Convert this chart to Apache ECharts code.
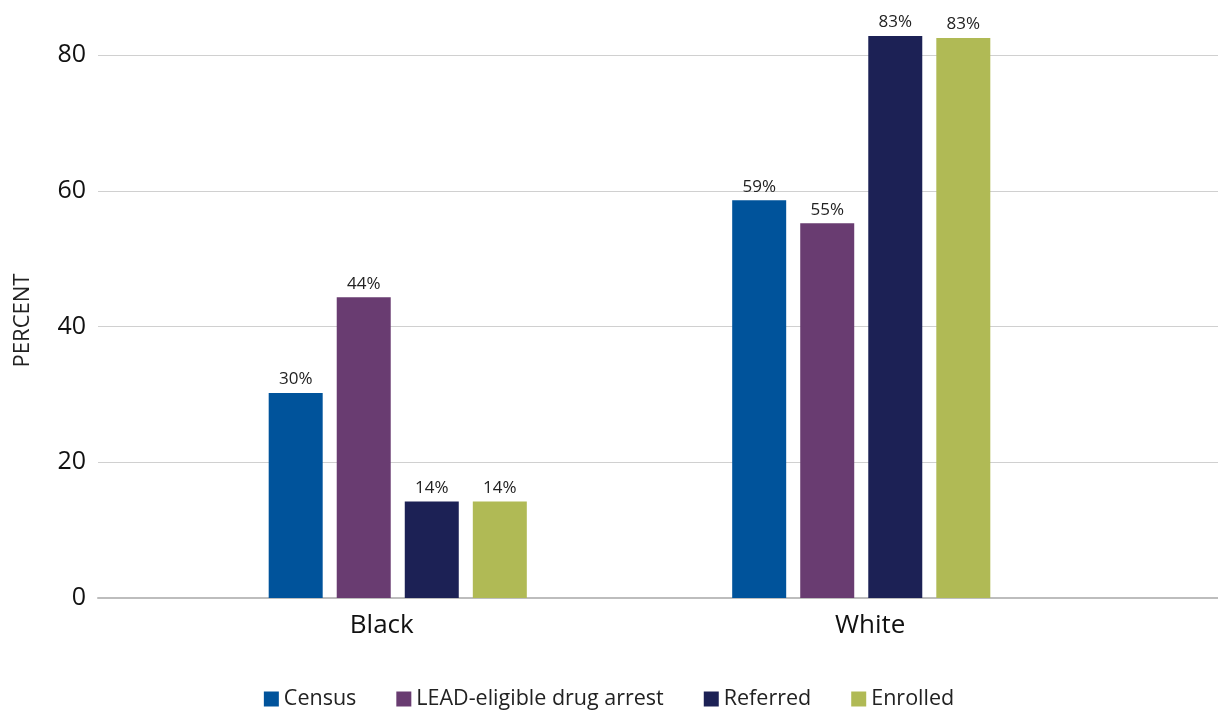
<!DOCTYPE html>
<html>
<head>
<meta charset="utf-8">
<script src="https://cdn.jsdelivr.net/npm/echarts@6/dist/echarts.min.js"></script>
<style>
  html, body { margin: 0; padding: 0; background: #fff; }
  #chart { width: 1218px; height: 713px; }
</style>
</head>
<body>
<div id="chart"></div>
<script>
// Share of each group by race, in percent
const categories = ['Black', 'White'];
const seriesNames = ['Census', 'LEAD-eligible drug arrest', 'Referred', 'Enrolled'];
const census = [30.2, 58.6];
const leadEligible = [44.3, 55.2];
const referred = [14.2, 82.8];
const enrolled = [14.2, 82.5];
const yTicks = [0, 20, 40, 60, 80];

const colors = ['#00539B', '#693C71', '#1C2155', '#B0BA55'];
const values = [census, leadEligible, referred, enrolled];
const font = '"Open Sans", "Noto Sans", sans-serif';

const chart = echarts.init(document.getElementById('chart'));

chart.setOption({
  animation: false,
  textStyle: { fontFamily: font },
  grid: [
    // Full-width frame: value axis, gridlines, baseline
    { left: 98, right: 0, top: 55, bottom: 115 },
    // Bar area
    { left: 166, right: 125, top: 55, bottom: 115 }
  ],
  legend: {
    bottom: -2,
    left: 'center',
    icon: 'rect',
    itemWidth: 15,
    itemHeight: 15,
    itemGap: 40,
    textStyle: { fontFamily: font, fontSize: 21.5, color: '#222' },
    data: seriesNames
  },
  xAxis: [
    {
      gridIndex: 0, type: 'value', min: 0, max: 1,
      axisLine: { show: true, lineStyle: { color: '#bdbdbd', width: 2 } },
      axisTick: { show: false }, axisLabel: { show: false }, splitLine: { show: false }
    },
    {
      gridIndex: 1, type: 'category', data: [
        { value: categories[0], textStyle: { padding: [0, 32, 0, 0] } },
        { value: categories[1], textStyle: { padding: [0, 0, 0, 18] } }
      ],
      axisLine: { show: false }, axisTick: { show: false },
      axisLabel: { margin: 15, fontSize: 26, color: '#111', fontFamily: font }
    }
  ],
  yAxis: [
    {
      gridIndex: 0, type: 'value', min: yTicks[0], max: yTicks[yTicks.length - 1], interval: 20,
      name: 'PERCENT', nameLocation: 'middle', nameGap: 64, nameRotate: 90,
      nameTextStyle: { fontSize: 22, color: '#222', fontFamily: font, padding: [0, 0, 0, 12] },
      axisLine: { show: false }, axisTick: { show: false },
      axisLabel: { margin: 12, fontSize: 25, color: '#111', fontFamily: font },
      splitLine: { lineStyle: { color: '#d0d0d0', width: 1 } }
    },
    {
      gridIndex: 1, type: 'value', min: yTicks[0], max: yTicks[yTicks.length - 1], show: false
    }
  ],
  series: seriesNames.map((name, i) => ({
    name: name,
    type: 'bar',
    xAxisIndex: 1,
    yAxisIndex: 1,
    data: values[i],
    barWidth: 54,
    barGap: '26%',
    clip: false,
    itemStyle: { color: colors[i] },
    label: {
      show: true,
      position: 'top',
      distance: 5,
      fontSize: 17,
      color: '#222',
      fontFamily: font,
      formatter: p => Math.round(p.value) + '%'
    }
  }))
});
</script>
</body>
</html>
